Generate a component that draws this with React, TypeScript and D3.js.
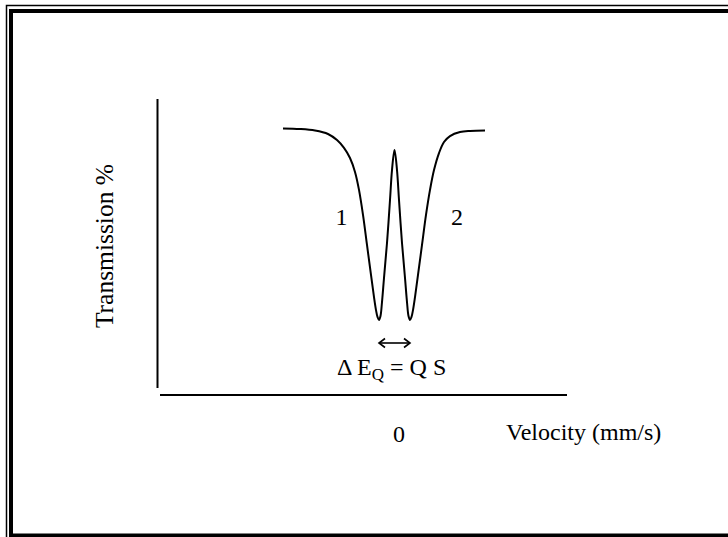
import React, { useEffect } from "react";
import * as d3 from "d3";

// Doublet spectrum: source velocity (mm/s) against relative transmission (%)
const velocity = [
  -2.32, -1.98, -1.68, -1.42, -1.24, -1.1, -0.98, -0.88, -0.8, -0.72, -0.64, -0.56,
  -0.5, -0.46, -0.43, -0.4, -0.37, -0.34, -0.3, -0.24, -0.18, -0.14, -0.09, -0.04,
  0.0, 0.06, 0.12, 0.16, 0.19, 0.22, 0.25, 0.28, 0.32, 0.38, 0.46, 0.54, 0.62, 0.7,
  0.8, 0.9, 1.02, 1.22, 1.42, 1.72,
];
const transmission = [
  100.03, 100.0, 99.92, 99.74, 99.42, 99.01, 98.48, 97.75, 96.81, 95.5, 93.93, 92.36,
  91.2, 90.52, 90.16, 90.0, 90.21, 90.94, 92.2, 94.03, 96.28, 97.85, 98.9, 97.85,
  96.28, 94.03, 92.2, 90.94, 90.21, 90.0, 90.16, 90.52, 91.2, 92.36, 93.93, 95.5,
  96.81, 97.85, 98.74, 99.32, 99.63, 99.84, 99.9, 99.92,
];
const lineLabels = ["1", "2"];
const lineLabelVelocity = [-1.15, 1.16];
const lineLabelTransmission = [95.0, 95.0];
const xTickValues = [0];
const xTitle = "Velocity (mm/s)";
const yTitle = "Transmission %";
const splitting = [-0.4, 0.22];

const W = 728;
const H = 537;
const FONT = "'Liberation Serif', 'Times New Roman', serif";

export default function App() {
  useEffect(() => {
    document.documentElement.style.overflow = "hidden";
    document.body.style.margin = "0";
    document.body.style.overflow = "hidden";
  }, []);

  const x = d3.scaleLinear().domain([-4, 4]).range([199, 599]);
  const y = d3.scaleLinear().domain([90, 100]).range([320, 129]);

  const points = velocity.map((v, i) => [v, transmission[i]] as [number, number]);
  const path = d3
    .line<[number, number]>()
    .x((d) => x(d[0]))
    .y((d) => y(d[1]))
    .curve(d3.curveCatmullRom.alpha(0.5))(points);

  const arrowY = 343;
  const ax0 = x(splitting[0]);
  const ax1 = x(splitting[1]);

  return (
    <svg
      width={W}
      height={H}
      viewBox={`0 0 ${W} ${H}`}
      style={{ position: "fixed", left: 0, top: 0, background: "#fff", display: "block" }}
    >
      {/* double frame, running off the right and bottom edges */}
      <path d={`M6.5,${H + 20} V5.5 H${W + 20}`} fill="none" stroke="#000" strokeWidth={1.5} />
      <path
        d={`M11,${H + 20} V11 H${W + 20} M9,535.5 H${W + 20}`}
        fill="none"
        stroke="#000"
        strokeWidth={4}
      />

      {/* axes */}
      <line x1={157.5} y1={99} x2={157.5} y2={388} stroke="#000" strokeWidth={2} />
      <line x1={160} y1={395} x2={567} y2={395} stroke="#000" strokeWidth={2} />

      {/* spectrum */}
      <path d={path ?? ""} fill="none" stroke="#000" strokeWidth={2} />

      {/* line numbers */}
      {lineLabels.map((t, i) => (
        <text
          key={t}
          x={x(lineLabelVelocity[i])}
          y={y(lineLabelTransmission[i])}
          textAnchor="middle"
          fontFamily={FONT}
          fontSize={24}
        >
          {t}
        </text>
      ))}

      {/* quadrupole splitting marker */}
      <g stroke="#000" strokeWidth={1.6} fill="none">
        <line x1={ax0} y1={arrowY} x2={ax1} y2={arrowY} />
        <polyline points={`${ax0 + 6},${arrowY - 4.5} ${ax0},${arrowY} ${ax0 + 6},${arrowY + 4.5}`} />
        <polyline points={`${ax1 - 6},${arrowY - 4.5} ${ax1},${arrowY} ${ax1 - 6},${arrowY + 4.5}`} />
      </g>
      <text x={337} y={375} fontFamily={FONT} fontSize={24}>
        Δ E
        <tspan fontSize={17} dy={5}>Q</tspan>
        <tspan dy={-5}> = Q S</tspan>
      </text>

      {/* x tick label and titles */}
      {xTickValues.map((v) => (
        <text key={v} x={x(v)} y={441.5} textAnchor="middle" fontFamily={FONT} fontSize={24}>
          {v}
        </text>
      ))}
      <text x={506} y={440} fontFamily={FONT} fontSize={24}>
        {xTitle}
      </text>
      <text
        transform="translate(113,246) rotate(-90)"
        textAnchor="middle"
        fontFamily={FONT}
        fontSize={25.5}
      >
        {yTitle}
      </text>
    </svg>
  );
}
